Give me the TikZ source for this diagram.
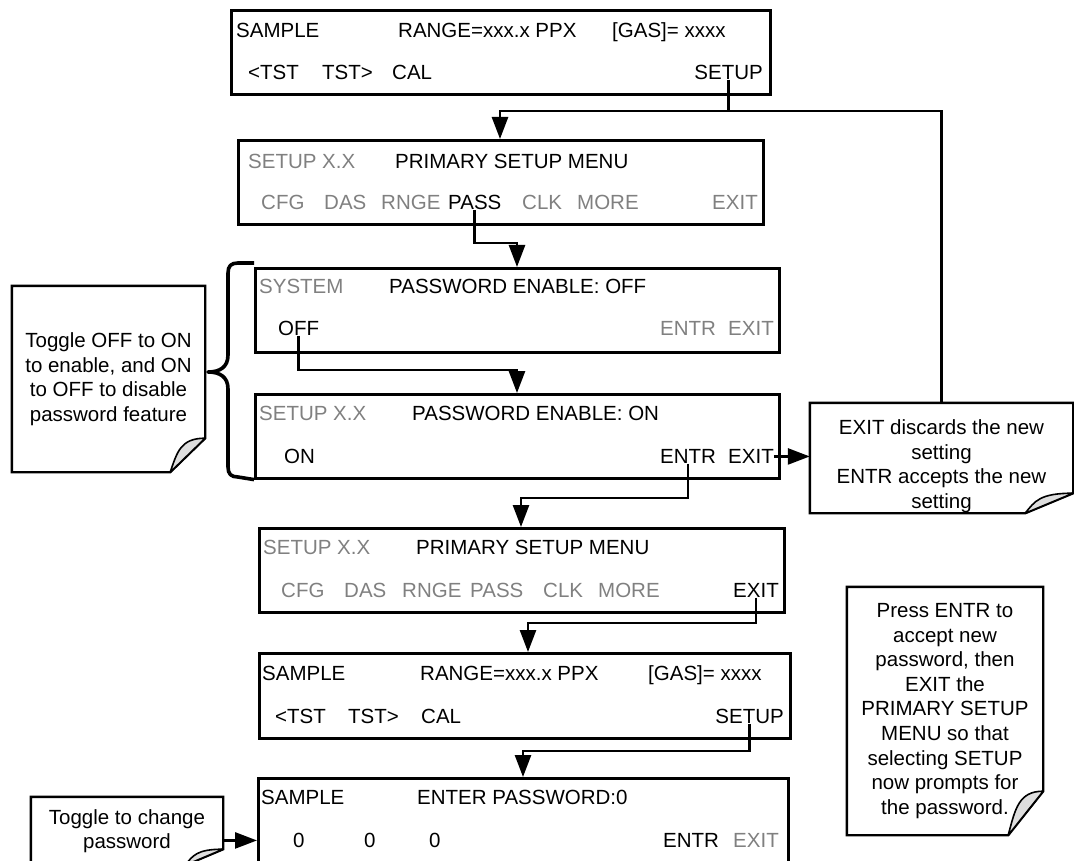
\documentclass[tikz,border=0pt]{standalone}
\usepackage{fontspec}
\setmainfont{Liberation Sans}
\usetikzlibrary{arrows.meta,calc,positioning}

\definecolor{offkey}{RGB}{128,128,128}
\definecolor{curlgray}{RGB}{222,222,222}

% outline of a note with a curled lower right corner
\newcommand\pagenote[3]{%
  \draw[notebox] (#1.north west) -- (#1.north east)
    -- ([yshift=#3]#1.south east) -- ([xshift=-#2]#1.south east)
    -- (#1.south west) -- cycle;
  \filldraw[notecurl] ([yshift=#3]#1.south east)
    .. controls ([xshift=-0.7*#2,yshift=#3]#1.south east)
    and ([xshift=-0.8*#2,yshift=0.6*#3]#1.south east)
    .. ([xshift=-#2]#1.south east) -- cycle;
}

\begin{document}
\begin{tikzpicture}[x=1pt,y=-1pt,
  font=\fontsize{20.5}{24.6}\selectfont,
  lcd/.style={draw,line width=2.6pt,anchor=north west,inner sep=0pt},
  lcdtxt/.style={inner sep=0pt,anchor=base west},
  lcdtxtr/.style={inner sep=0pt,anchor=base east},
  dim/.style={text=offkey},
  note/.style={align=center,inner sep=0pt},
  notebox/.style={draw,line width=2.4pt,line join=miter},
  notecurl/.style={fill=curlgray,draw,line width=1.6pt,line join=round},
  link/.style={line width=2.6pt},
  flow/.style={line width=2.6pt,-{Triangle[length=22pt,width=16pt]}},
  leftbrace/.style={line width=3.6pt,line join=round},
]
\useasboundingbox (0,0) rectangle (1074,861);
\clip (0,0) rectangle (1074,861);

% sample screen
\begin{scope}[shift={(230,9)}]
\node[lcd,minimum width=539pt,minimum height=84pt] (scr1) at (0,0) {};
\node[lcdtxt] (scr1sample) at (6,28.5) {SAMPLE};
\node[lcdtxt] (scr1range) at (168,28.5) {RANGE=xxx.x PPX};
\node[lcdtxt] (scr1gas) at (382,28.5) {[GAS]= xxxx};
\node[lcdtxt] (scr1tstl) at (18,70.5) {<TST};
\node[lcdtxt] (scr1tstr) at (92,70.5) {TST>};
\node[lcdtxt] (scr1cal) at (162,70.5) {CAL};
\node[lcdtxtr] (scr1setup) at (533,70.5) {SETUP};
\end{scope}

% primary setup menu
\begin{scope}[shift={(237,139)}]
\node[lcd,minimum width=525pt,minimum height=84pt] (scr2) at (0,0) {};
\node[lcdtxt,dim] (scr2title) at (11,29.5) {SETUP X.X};
\node[lcdtxt] (scr2menu) at (158,29.5) {PRIMARY SETUP MENU};
\foreach \lbl/\xx in {CFG/24,DAS/87,RNGE/144,CLK/285,MORE/340,EXIT/475}
  \node[lcdtxt,dim] (scr2\lbl) at (\xx,70.5) {\lbl};
\node[lcdtxt] (scr2pass) at (211,70.5) {PASS};
\end{scope}

% password enable off
\begin{scope}[shift={(254,267)}]
\node[lcd,minimum width=524pt,minimum height=84pt] (scr3) at (0,0) {};
\node[lcdtxt,dim] (scr3title) at (5,26.5) {SYSTEM};
\node[lcdtxt] (scr3msg) at (135,26.5) {PASSWORD ENABLE: OFF};
\node[lcdtxt] (scr3off) at (24,68.5) {OFF};
\node[lcdtxt,dim] (scr3entr) at (406,68.5) {ENTR};
\node[lcdtxt,dim] (scr3exit) at (474,68.5) {EXIT};
\end{scope}

% password enable on
\begin{scope}[shift={(254,393)}]
\node[lcd,minimum width=524pt,minimum height=84pt] (scr4) at (0,0) {};
\node[lcdtxt,dim] (scr4title) at (5,27.5) {SETUP X.X};
\node[lcdtxt] (scr4msg) at (158,27.5) {PASSWORD ENABLE: ON};
\node[lcdtxt] (scr4on) at (30,70.5) {ON};
\node[lcdtxt] (scr4entr) at (406,70.5) {ENTR};
\node[lcdtxt] (scr4exit) at (474,70.5) {EXIT};
\end{scope}

% back in the primary setup menu
\begin{scope}[shift={(258,527)}]
\node[lcd,minimum width=525pt,minimum height=84pt] (scr5) at (0,0) {};
\node[lcdtxt,dim] (scr5title) at (5,27.5) {SETUP X.X};
\node[lcdtxt] (scr5menu) at (158,27.5) {PRIMARY SETUP MENU};
\foreach \lbl/\xx in {CFG/23,DAS/86,RNGE/144,PASS/212,CLK/285,MORE/340}
  \node[lcdtxt,dim] (scr5\lbl) at (\xx,70.5) {\lbl};
\node[lcdtxt] (scr5exit) at (475,70.5) {EXIT};
\end{scope}

% sample screen again
\begin{scope}[shift={(258,652)}]
\node[lcd,minimum width=531pt,minimum height=85pt] (scr6) at (0,0) {};
\node[lcdtxt] (scr6sample) at (4,28.5) {SAMPLE};
\node[lcdtxt] (scr6range) at (162,28.5) {RANGE=xxx.x PPX};
\node[lcdtxt] (scr6gas) at (390,28.5) {[GAS]= xxxx};
\node[lcdtxt] (scr6tstl) at (17,71.5) {<TST};
\node[lcdtxt] (scr6tstr) at (90,71.5) {TST>};
\node[lcdtxt] (scr6cal) at (163,71.5) {CAL};
\node[lcdtxtr] (scr6setup) at (526,71.5) {SETUP};
\end{scope}

% enter password
\begin{scope}[shift={(257,777)}]
\node[lcd,minimum width=530pt,minimum height=103pt] (scr7) at (0,0) {};
\node[lcdtxt] (scr7sample) at (4,27.5) {SAMPLE};
\node[lcdtxt] (scr7msg) at (160,27.5) {ENTER PASSWORD:0};
\foreach \i/\xx in {1/36,2/107,3/172}
  \node[lcdtxt] (scr7zero\i) at (\xx,70.5) {0};
\node[lcdtxt] (scr7entr) at (406,70.5) {ENTR};
\node[lcdtxt,dim] (scr7exit) at (476,70.5) {EXIT};
\end{scope}

% the notes
\node[note,minimum width=263pt,minimum height=110pt] (note1) at (941.5,458)
  {\rule{0pt}{31pt}EXIT discards the new\\ setting\\ ENTR accepts the new\\ setting};
\node[note,minimum width=193pt,minimum height=186pt] (note2) at (108.5,379)
  {Toggle OFF to ON\\ to enable, and ON\\ to OFF to disable\\ password feature};
\node[note,minimum width=196pt,minimum height=248pt] (note3) at (945,711)
  {Press ENTR to\\ accept new\\ password, then\\ EXIT the\\ PRIMARY SETUP\\
   MENU so that\\ selecting SETUP\\ now prompts for\\ the password.};
\node[note,minimum width=192pt,minimum height=68pt] (note4) at (127,831)
  {Toggle to change\\ password};
\pagenote{note1}{48pt}{20pt}
\pagenote{note2}{35pt}{34pt}
\pagenote{note3}{35pt}{44pt}
\pagenote{note4}{38pt}{16pt}

% brace over the two toggle screens
\draw[leftbrace] ([yshift=4pt]scr3.north west) -- (238,263)
  .. controls (231,263) and (228,266) .. (228,273) -- (228,355)
  .. controls (228,367) and (220,372) .. (208,372)
  .. controls (220,372) and (228,377) .. (228,389) -- (228,467)
  .. controls (228,474) and (231,477) .. (238,477) -- (scr4.south west);

% junctions
\coordinate (j1) at (500,111);
\coordinate (j2) at (517,243);
\coordinate (j3) at (517,370);
\coordinate (j4) at (521,498);
\coordinate (j5) at (528,623);
\coordinate (j6) at (523,751);

% flow between screens
\draw[flow] (scr1setup.south) |- (j1) -- (j1 |- scr2.north);
\draw[link] (scr1setup.south) -- (scr1setup |- j1) -| (note1.north);
\draw[flow] (scr2pass.south) |- (j2) -- (j2 |- scr3.north);
\draw[flow] (scr3off.south) |- (j3) -- (j3 |- scr4.north);
\draw[flow] (scr4entr.south) |- (j4) -- (j4 |- scr5.north);
\draw[flow] (scr5exit.south) |- (j5) -- (j5 |- scr6.north);
\draw[flow] (scr6setup.south) |- (j6) -- (j6 |- scr7.north);

% notes pointing at keys
\draw[flow] (scr4exit.east) -- (scr4exit.east -| note1.west);
\draw[flow] (note4.east |- scr7zero1) -- (scr7.west |- scr7zero1);
\end{tikzpicture}
\end{document}
